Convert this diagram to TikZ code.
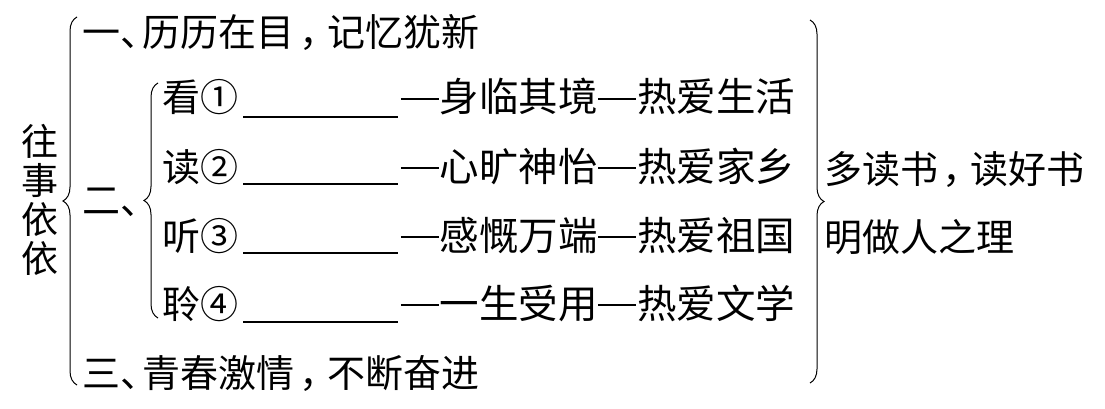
\documentclass[tikz,border=0pt]{standalone}
\usepackage{fontspec}
\newfontfamily\cjk{Noto Sans CJK SC}
\usetikzlibrary{decorations.pathreplacing}
\newcommand\pcomma{\makebox[0.85em][l]{\hspace{0.12em}，}}
\newcommand\pdun{\makebox[0.6em][l]{、}}
\newcommand\dsh{\makebox[1em][c]{\rule[0.3em]{0.96em}{0.045em}}}
\tikzset{
  txt/.style={font=\cjk\fontsize{38}{38}\selectfont, inner sep=0pt, outer sep=0pt, anchor=base west},
  dtxt/.style={txt, font=\cjk\fontsize{39.5}{39.5}\selectfont},
  brc/.style={decorate, decoration={brace, amplitude=14pt}, line width=1pt},
  blank/.style={line width=1.6pt}
}
\begin{document}
\begin{tikzpicture}[x=1pt,y=-1pt]
\fill[white] (0,0) rectangle (1105,409);
\useasboundingbox (0,0) rectangle (1105,409);

% title
\node[txt, anchor=center, align=center, font=\cjk\fontsize{37}{39}\selectfont] (title) at (40,200) {往\\事\\依\\依};

% left brace
\draw[brc] (77,385) -- (77,17);

\node[txt] (l1) at (82,47) {一\pdun 历历在目\pcomma 记忆犹新};
\node[txt] (l2) at (82,214) {二\pdun};
\node[txt] (l3) at (82,387) {三\pdun 青春激情\pcomma 不断奋进};

% inner brace
\draw[brc] (158,318) -- (158,83);

\node[txt] (k1) at (162,112) {看①};
\node[txt] (k2) at (162,181) {读②};
\node[txt] (k3) at (162,250) {听③};
\node[txt] (k4) at (162,318) {聆④};

\draw[blank] (243,117) -- (398,117);
\draw[blank] (243,184) -- (398,184);
\draw[blank] (243,253) -- (398,253);
\draw[blank] (243,322) -- (398,322);

\node[dtxt] (d1) at (400,112) {\dsh 身临其境\dsh 热爱生活};
\node[dtxt] (d2) at (400,181) {\dsh 心旷神怡\dsh 热爱家乡};
\node[dtxt] (d3) at (400,250) {\dsh 感慨万端\dsh 热爱祖国};
\node[dtxt] (d4) at (400,318) {\dsh 一生受用\dsh 热爱文学};

% right brace
\draw[brc] (810,20) -- (810,383);

\node[txt] (c1) at (824,183) {多读书\pcomma 读好书};
\node[txt] (c2) at (824,251) {明做人之理};
\end{tikzpicture}
\end{document}
